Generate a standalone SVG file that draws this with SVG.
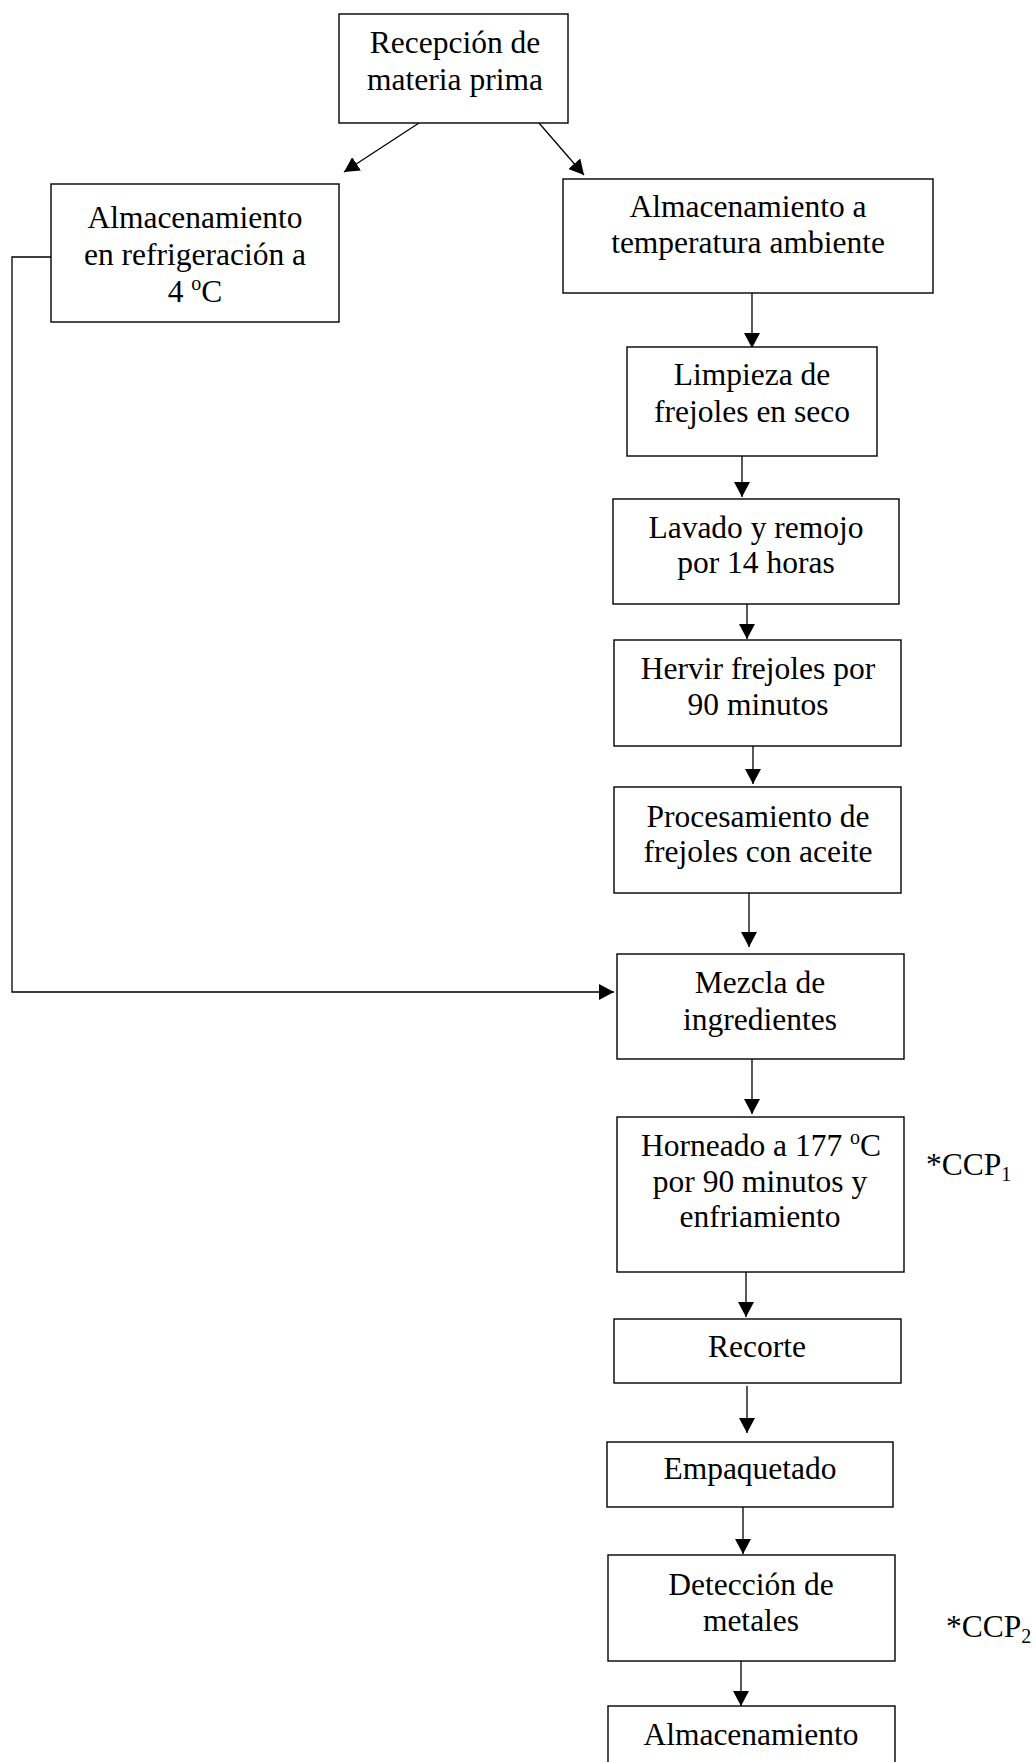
<svg xmlns="http://www.w3.org/2000/svg" width="1036" height="1762" viewBox="0 0 1036 1762">
<style>
.box{fill:#fff;stroke:#000;stroke-width:1.4}
.t{font-family:"Liberation Serif","Times New Roman",serif;font-size:31.5px;fill:#000;text-anchor:middle}
.n{font-family:"Liberation Serif","Times New Roman",serif;font-size:31.5px;fill:#000}
.c{fill:none;stroke:#000;stroke-width:1.3}
</style>
<defs>
<marker id="ah" markerUnits="userSpaceOnUse" markerWidth="16" markerHeight="16" refX="15" refY="8" orient="auto">
<path d="M0,0 L15,8 L0,16 z" fill="#000"/>
</marker>
</defs>
<rect width="1036" height="1762" fill="#fff"/>
<g id="connectors">
<line class="c" x1="419" y1="123" x2="344" y2="172" marker-end="url(#ah)"/>
<line class="c" x1="539" y1="123" x2="584" y2="175" marker-end="url(#ah)"/>
<line class="c" x1="752" y1="293" x2="752" y2="348" marker-end="url(#ah)"/>
<line class="c" x1="742" y1="456" x2="742" y2="497" marker-end="url(#ah)"/>
<line class="c" x1="747" y1="604" x2="747" y2="639" marker-end="url(#ah)"/>
<line class="c" x1="753" y1="746" x2="753" y2="784" marker-end="url(#ah)"/>
<line class="c" x1="749" y1="893" x2="749" y2="947" marker-end="url(#ah)"/>
<line class="c" x1="752" y1="1059" x2="752" y2="1114" marker-end="url(#ah)"/>
<line class="c" x1="746" y1="1272" x2="746" y2="1317" marker-end="url(#ah)"/>
<line class="c" x1="747" y1="1386" x2="747" y2="1433" marker-end="url(#ah)"/>
<line class="c" x1="743" y1="1507" x2="743" y2="1554" marker-end="url(#ah)"/>
<line class="c" x1="741" y1="1661" x2="741" y2="1706" marker-end="url(#ah)"/>
<polyline class="c" points="55,257 12,257 12,992 614,992" marker-end="url(#ah)"/>
</g>
<g id="recepcion">
<rect class="box" x="339" y="14" width="229" height="109"/>
<text class="t" x="455" y="53">Recepción de</text>
<text class="t" x="455" y="90">materia prima</text>
</g>
<g id="alm_refrig">
<rect class="box" x="51" y="184" width="288" height="138"/>
<text class="t" x="195" y="228">Almacenamiento</text>
<text class="t" x="195" y="265">en refrigeración a</text>
<text class="t" x="195" y="302">4 <tspan font-size="20" dy="-12">o</tspan><tspan dy="12">C</tspan></text>
</g>
<g id="alm_amb">
<rect class="box" x="563" y="179" width="370" height="114"/>
<text class="t" x="748" y="217">Almacenamiento a</text>
<text class="t" x="748" y="253">temperatura ambiente</text>
</g>
<g id="limpieza">
<rect class="box" x="627" y="347" width="250" height="109"/>
<text class="t" x="752" y="385">Limpieza de</text>
<text class="t" x="752" y="422">frejoles en seco</text>
</g>
<g id="lavado">
<rect class="box" x="613" y="499" width="286" height="105"/>
<text class="t" x="756" y="538">Lavado y remojo</text>
<text class="t" x="756" y="573">por 14 horas</text>
</g>
<g id="hervir">
<rect class="box" x="614" y="640" width="287" height="106"/>
<text class="t" x="758" y="679">Hervir frejoles por</text>
<text class="t" x="758" y="715">90 minutos</text>
</g>
<g id="procesamiento">
<rect class="box" x="614" y="787" width="287" height="106"/>
<text class="t" x="758" y="827">Procesamiento de</text>
<text class="t" x="758" y="862">frejoles con aceite</text>
</g>
<g id="mezcla">
<rect class="box" x="617" y="954" width="287" height="105"/>
<text class="t" x="760" y="993">Mezcla de</text>
<text class="t" x="760" y="1030">ingredientes</text>
</g>
<g id="horneado">
<rect class="box" x="617" y="1117" width="287" height="155"/>
<text class="t" x="761" y="1156">Horneado a 177 <tspan font-size="20" dy="-12">o</tspan><tspan dy="12">C</tspan></text>
<text class="t" x="760" y="1192">por 90 minutos y</text>
<text class="t" x="760" y="1227">enfriamiento</text>
</g>
<g id="ccp1">
<text class="n" x="926" y="1175">*CCP<tspan font-size="20" dy="6">1</tspan></text>
</g>
<g id="recorte">
<rect class="box" x="614" y="1319" width="287" height="64"/>
<text class="t" x="757" y="1357">Recorte</text>
</g>
<g id="empaquetado">
<rect class="box" x="607" y="1442" width="286" height="65"/>
<text class="t" x="750" y="1479">Empaquetado</text>
</g>
<g id="deteccion">
<rect class="box" x="608" y="1555" width="287" height="106"/>
<text class="t" x="751" y="1595">Detección de</text>
<text class="t" x="751" y="1631">metales</text>
</g>
<g id="ccp2">
<text class="n" x="946" y="1637">*CCP<tspan font-size="20" dy="6">2</tspan></text>
</g>
<g id="almacenamiento">
<rect class="box" x="608" y="1706" width="287" height="70"/>
<text class="t" x="751" y="1745">Almacenamiento</text>
</g>
</svg>
